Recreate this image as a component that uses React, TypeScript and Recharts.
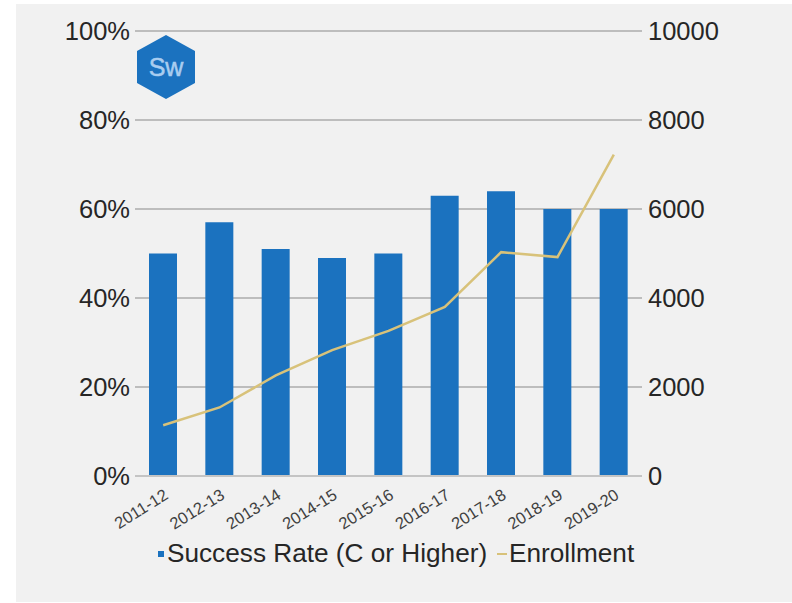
import React from "react";
import { ComposedChart, Bar, Line, XAxis, YAxis, CartesianGrid, Legend } from "recharts";

const terms = ["2011-12", "2012-13", "2013-14", "2014-15", "2015-16", "2016-17", "2017-18", "2018-19", "2019-20"];
const successRate = [50, 57, 51, 49, 50, 63, 64, 60, 60];
const enrollment = [1140, 1540, 2260, 2830, 3260, 3800, 5030, 4920, 7220];
const rateTicks = [0, 20, 40, 60, 80, 100];
const enrollmentTicks = [0, 2000, 4000, 6000, 8000, 10000];

const rows = terms.map((term, i) => ({ term, rate: successRate[i], enrollment: enrollment[i] }));

const FONT = '"Liberation Sans", Arial, sans-serif';
const BLUE = "#1b72bf";
const GOLD = "#d8c27a";

// Bottom key: a small square for the bars and a short dash for the line.
function KeyRow() {
  return (
    <div
      style={{
        fontFamily: FONT,
        fontSize: 26.2,
        color: "#262626",
        height: 34,
        lineHeight: "34px",
        position: "relative",
        whiteSpace: "nowrap",
      }}
    >
      <span style={{ position: "absolute", left: 158, top: 15, width: 6, height: 6, background: BLUE }} />
      <span style={{ position: "absolute", left: 167, top: 0 }}>Success Rate (C or Higher)</span>
      <span style={{ position: "absolute", left: 497, top: 17, width: 10, height: 2, background: GOLD }} />
      <span style={{ position: "absolute", left: 509, top: 0 }}>Enrollment</span>
    </div>
  );
}

// Subject badge in the upper left of the plot.
function Badge() {
  return (
    <svg width={66} height={70} style={{ position: "absolute", left: 133, top: 32 }}>
      <polygon points="33,3 62,19 62,51 33,67 4,51 4,19" fill={BLUE} />
      <text x={33} y={44} textAnchor="middle" fontFamily={FONT} fontSize={25} fill="#a9cdf0" stroke="#a9cdf0" strokeWidth={0.5}>
        Sw
      </text>
    </svg>
  );
}

export default function App() {
  return (
    <div style={{ position: "absolute", left: 0, top: 0, width: 792, height: 603, background: "#ffffff", overflow: "hidden" }}>
      <div style={{ position: "absolute", left: 16, top: 4, width: 776, height: 598, background: "#f1f1f1" }} />
      <div style={{ position: "absolute", left: 0, top: 0 }}>
        <ComposedChart
          width={792}
          height={603}
          data={rows}
          margin={{ top: 31, right: 0, bottom: 33, left: 0 }}
        >
          <CartesianGrid yAxisId="rate" horizontal vertical={false} stroke="#bdbdbd" strokeWidth={2} />
          <XAxis
            dataKey="term"
            height={60}
            interval={0}
            tickLine={false}
            axisLine={{ stroke: "#c4c4c4", strokeWidth: 2 }}
            angle={-32}
            textAnchor="end"
            tickMargin={6}
            tick={{ fontFamily: FONT, fontSize: 16.5, fill: "#404040" }}
          />
          <YAxis
            yAxisId="rate"
            width={135}
            domain={[0, 100]}
            ticks={rateTicks}
            tickFormatter={(v: number) => `${v}%`}
            axisLine={false}
            tickLine={false}
            tickMargin={-1}
            tick={{ fontFamily: FONT, fontSize: 25.5, fill: "#262626" }}
          />
          <YAxis
            yAxisId="enrollment"
            orientation="right"
            width={150}
            domain={[0, 10000]}
            ticks={enrollmentTicks}
            axisLine={false}
            tickLine={false}
            tickMargin={0}
            tick={{ fontFamily: FONT, fontSize: 25.5, fill: "#262626" }}
          />
          <Bar
            yAxisId="rate"
            dataKey="rate"
            name="Success Rate (C or Higher)"
            fill={BLUE}
            barSize={28}
            isAnimationActive={false}
          />
          <Line
            yAxisId="enrollment"
            dataKey="enrollment"
            name="Enrollment"
            type="linear"
            stroke={GOLD}
            strokeWidth={2.5}
            dot={false}
            isAnimationActive={false}
          />
          <Legend verticalAlign="bottom" height={34} content={<KeyRow />} />
        </ComposedChart>
      </div>
      <Badge />
    </div>
  );
}
